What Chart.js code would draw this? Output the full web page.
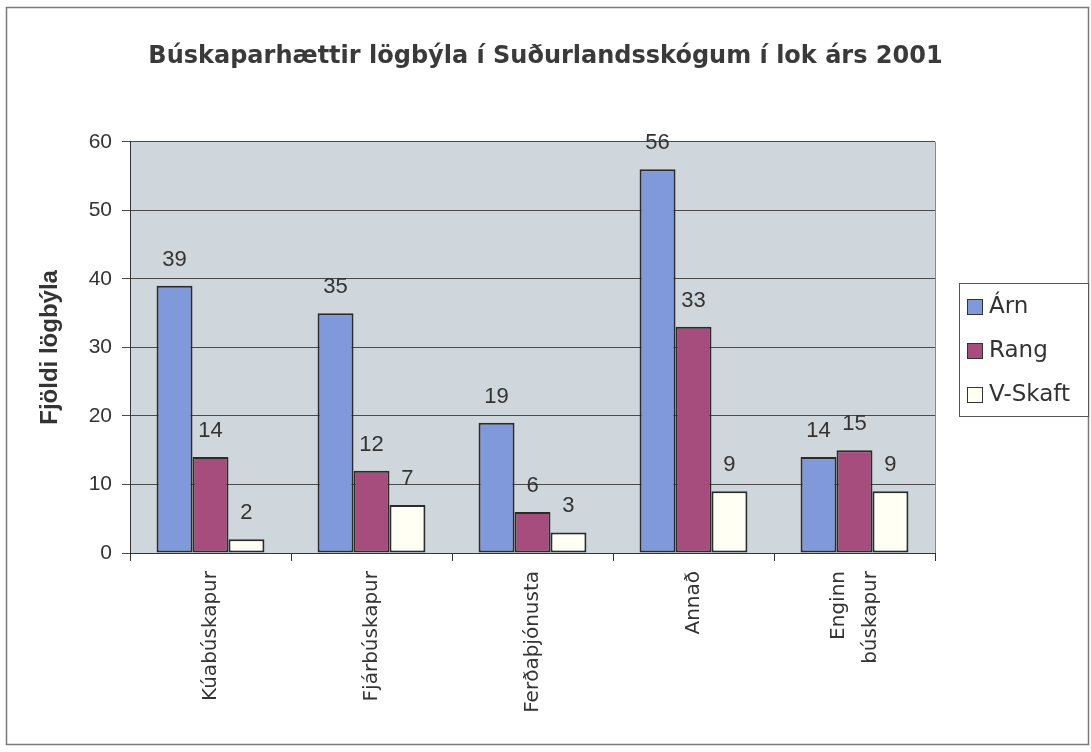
<!DOCTYPE html>
<html lang="is">
<head>
<meta charset="utf-8">
<title>Búskaparhættir lögbýla</title>
<script src="https://cdn.jsdelivr.net/npm/chart.js@4.4.1/dist/chart.umd.min.js"></script>
<style>
  html, body { margin: 0; padding: 0; background: #ffffff; }
  canvas { display: block; }
</style>
</head>
<body>
<canvas id="barChart" width="1091" height="752"></canvas>
<script>
// gögn lesin af myndinni
const categories = ['Kúabúskapur', 'Fjárbúskapur', 'Ferðaþjónusta', 'Annað', ['Enginn', 'búskapur']];
const seriesNames = ['Árn', 'Rang', 'V-Skaft'];
const arnValues = [39, 35, 19, 56, 14];
const rangValues = [14, 12, 6, 33, 15];
const vskaftValues = [2, 7, 3, 9, 9];
const yTicks = [0, 10, 20, 30, 40, 50, 60];

const seriesColors = ['#7f99da', '#a64d7d', '#fffff4'];
const comicFont = '"Comic Sans MS", "DejaVu Sans", sans-serif';
const arialFont = '"Liberation Sans", Arial, sans-serif';

document.addEventListener('DOMContentLoaded', () => {
  const canvasElement = document.getElementById('barChart');
  const ctx = canvasElement.getContext('2d');

  // bakgrunnur, rammi og gráa teiknisvæðið
  const backgroundPlugin = {
    id: 'backgroundPlugin',
    beforeDraw(chart) {
      const c = chart.ctx;
      const a = chart.chartArea;
      c.save();
      c.fillStyle = '#ffffff';
      c.fillRect(0, 0, chart.width, chart.height);
      c.strokeStyle = '#7a7a7a';
      c.lineWidth = 1.5;
      c.strokeRect(6.5, 7.5, chart.width - 9, chart.height - 15);
      c.fillStyle = '#cfd7dc';
      c.fillRect(a.left, a.top, a.right - a.left, a.bottom - a.top);
      c.restore();
    },
    afterDraw(chart) {
      const c = chart.ctx;
      const a = chart.chartArea;
      c.save();
      c.strokeStyle = '#8a8a8a';
      c.lineWidth = 1;
      c.beginPath();
      c.moveTo(a.right + 0.5, a.top);
      c.lineTo(a.right + 0.5, a.bottom);
      c.stroke();
      c.restore();
    }
  };

  // tölur fyrir ofan súlurnar
  const valueLabels = {
    id: 'valueLabels',
    afterDatasetsDraw(chart) {
      const c = chart.ctx;
      c.save();
      c.font = '22px ' + arialFont;
      c.fillStyle = '#333333';
      c.textAlign = 'center';
      c.textBaseline = 'alphabetic';
      chart.data.datasets.forEach((ds, i) => {
        chart.getDatasetMeta(i).data.forEach((bar, j) => {
          c.fillText(String(ds.data[j]), bar.x, bar.y - 20);
        });
      });
      c.restore();
    }
  };

  // flokkaheiti lóðrétt, margar línur miðjaðar á flokkinn
  const categoryLabels = {
    id: 'categoryLabels',
    afterDraw(chart) {
      const c = chart.ctx;
      const xScale = chart.scales.x;
      const lineH = 32;
      c.save();
      c.font = '20px ' + comicFont;
      c.fillStyle = '#333333';
      c.textAlign = 'right';
      c.textBaseline = 'middle';
      categories.forEach((label, i) => {
        const lines = Array.isArray(label) ? label : [label];
        const x = xScale.getPixelForTick(i);
        const y = xScale.top + 18;
        lines.forEach((line, k) => {
          const off = (k - (lines.length - 1) / 2) * lineH;
          c.save();
          c.translate(x + off, y);
          c.rotate(-Math.PI / 2);
          c.fillText(line, 0, 0);
          c.restore();
        });
      });
      c.restore();
    }
  };

  // skýringar til hægri, í auða ásnum
  const boxLegend = {
    id: 'boxLegend',
    afterDraw(chart) {
      const c = chart.ctx;
      const left = 959, top = 283, w = 129, h = 133;
      c.save();
      c.fillStyle = '#ffffff';
      c.fillRect(left, top, w, h);
      c.strokeStyle = '#555555';
      c.lineWidth = 1;
      c.strokeRect(left + 0.5, top + 0.5, w, h);
      c.font = '23px ' + comicFont;
      c.textBaseline = 'middle';
      c.textAlign = 'left';
      chart.data.datasets.forEach((ds, i) => {
        const cy = top + 24 + i * 44;
        c.fillStyle = ds.backgroundColor;
        c.fillRect(967, cy - 8, 16, 16);
        c.strokeStyle = '#333333';
        c.strokeRect(967.5, cy - 7.5, 15, 15);
        c.fillStyle = '#333333';
        c.fillText(ds.label, 989, cy);
      });
      c.restore();
    }
  };

  const dataConfig = {
    labels: categories,
    datasets: [
      { label: seriesNames[0], data: arnValues, backgroundColor: seriesColors[0] },
      { label: seriesNames[1], data: rangValues, backgroundColor: seriesColors[1] },
      { label: seriesNames[2], data: vskaftValues, backgroundColor: seriesColors[2] }
    ].map(ds => Object.assign(ds, {
      borderColor: '#2b2b2b',
      borderWidth: 2,
      borderSkipped: false,
      categoryPercentage: 0.67,
      barPercentage: 1.0
    }))
  };

  new Chart(ctx, {
    type: 'bar',
    data: dataConfig,
    plugins: [backgroundPlugin, valueLabels, categoryLabels, boxLegend],
    options: {
      responsive: false,
      animation: false,
      layout: { padding: 0 },
      plugins: {
        legend: { display: false },
        tooltip: { enabled: false },
        title: {
          display: true,
          text: 'Búskaparhættir lögbýla í Suðurlandsskógum í lok árs 2001',
          color: '#3a3a3a',
          font: { family: comicFont, size: 24, weight: 'bold' },
          padding: { top: 42, bottom: 71 }
        }
      },
      scales: {
        x: {
          grid: { offset: true, drawOnChartArea: false, tickLength: 8, color: '#333333' },
          border: { display: true, color: '#333333', width: 1 },
          ticks: {
            // teiknað í categoryLabels
            color: 'rgba(0,0,0,0)',
            font: { family: comicFont, size: 20 },
            minRotation: 90,
            maxRotation: 90,
            padding: 10,
            autoSkip: false
          },
          afterFit(scale) { scale.height = 199; }
        },
        y: {
          min: 0,
          max: 60,
          afterBuildTicks(scale) { scale.ticks = yTicks.map(v => ({ value: v })); },
          grid: { color: '#4a4a4a', lineWidth: 1, tickLength: 8 },
          border: { display: true, color: '#333333', width: 1 },
          ticks: {
            color: '#333333',
            font: { family: arialFont, size: 21 },
            padding: 10
          },
          title: {
            display: true,
            text: 'Fjöldi lögbýla',
            color: '#333333',
            font: { family: arialFont, size: 24, weight: 'bold' },
            padding: { top: 36, bottom: 0 }
          },
          afterFit(scale) { scale.width = 130; }
        },
        // auður ás hægra megin sem heldur plássi fyrir skýringarnar
        legendSpace: {
          type: 'linear',
          position: 'right',
          display: true,
          grid: { display: false },
          border: { display: false },
          ticks: { display: false },
          afterFit(scale) { scale.width = 156; }
        }
      }
    }
  });
});
</script>
</body>
</html>
